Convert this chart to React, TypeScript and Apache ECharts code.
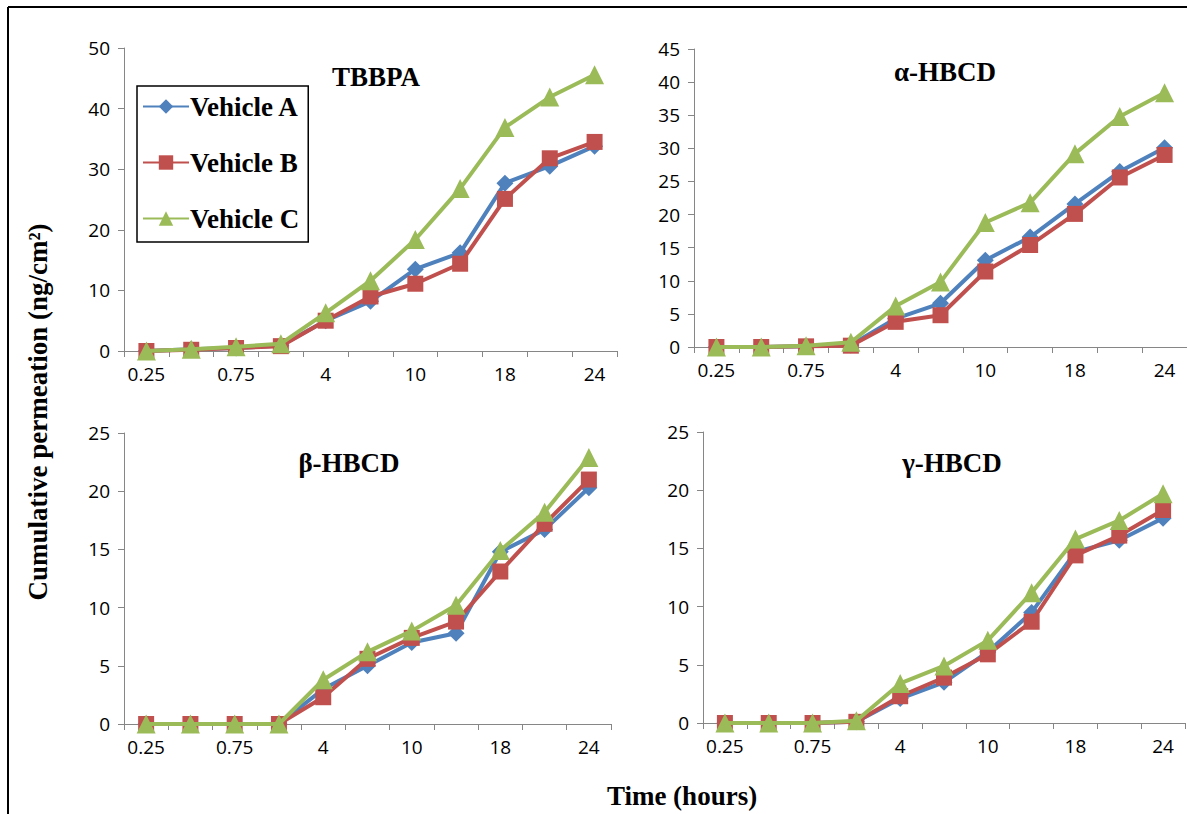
import React, { useEffect, useRef } from "react";
import * as echarts from "echarts";

const categories = ["0.25", "0.5", "0.75", "1", "4", "7", "10", "14", "18", "21", "24"];
const seriesNames = ["Vehicle A", "Vehicle B", "Vehicle C"];
const colors = ["#4F81BD", "#C0504D", "#9BBB59"];
const symbols = ["diamond", "rect", "triangle"];
const symbolSizes = [17, 16, 19];

const panelTitles = ["TBBPA", "α-HBCD", "β-HBCD", "γ-HBCD"];
const yMax = [50, 45, 25, 25];
const yStep = [10, 5, 5, 5];

const tbbpaA = [0, 0.3, 0.5, 0.9, 5, 8.2, 13.5, 16.2, 27.7, 30.5, 33.8];
const tbbpaB = [0, 0.2, 0.5, 0.8, 5, 9, 11.1, 14.4, 25.1, 31.8, 34.5];
const tbbpaC = [0, 0.3, 0.7, 1.2, 6.3, 11.6, 18.4, 26.8, 36.9, 41.9, 45.6];

const alphaA = [0, 0, 0.1, 0.3, 4.3, 6.6, 13.1, 16.6, 21.6, 26.5, 30.1];
const alphaB = [0, 0, 0.1, 0.2, 3.8, 4.8, 11.4, 15.4, 20.1, 25.6, 29];
const alphaC = [0, 0, 0.2, 0.7, 6.2, 9.8, 18.8, 21.8, 29.2, 34.8, 38.4];

const betaA = [0, 0, 0, 0, 3, 5, 7, 7.8, 14.8, 16.7, 20.3];
const betaB = [0, 0, 0, 0, 2.3, 5.6, 7.4, 8.8, 13.1, 17.2, 21];
const betaC = [0, 0, 0, 0, 3.8, 6.2, 8, 10.2, 14.9, 18.2, 22.9];

const gammaA = [0, 0, 0, 0.1, 2.1, 3.5, 6.1, 9.5, 14.7, 15.7, 17.6];
const gammaB = [0, 0, 0, 0.1, 2.3, 3.9, 5.9, 8.7, 14.4, 16.1, 18.3];
const gammaC = [0, 0, 0, 0.2, 3.4, 4.9, 7.1, 11.2, 15.8, 17.4, 19.7];

const panelData = [
  [tbbpaA, tbbpaB, tbbpaC],
  [alphaA, alphaB, alphaC],
  [betaA, betaB, betaC],
  [gammaA, gammaB, gammaC],
];

const grids = [
  { left: 124, top: 48, width: 493, height: 303 },
  { left: 694, top: 49, width: 493, height: 298 },
  { left: 124, top: 433, width: 487, height: 291 },
  { left: 703, top: 432, width: 482, height: 291 },
];
const titlePos = [
  { x: 376, y: 77 },
  { x: 945, y: 72 },
  { x: 349, y: 463 },
  { x: 952, y: 463 },
];

const serif = "'Liberation Serif', 'Times New Roman', serif";
const sans = "'Open Sans', 'Noto Sans', sans-serif";
const axisColor = "#868686";

export default function App() {
  const ref = useRef<HTMLDivElement>(null);
  useEffect(() => {
    if (!ref.current) return;
    const chart = echarts.init(ref.current, null, { renderer: "svg" });
    const xAxis = grids.map((_, i) => ({
      type: "category",
      gridIndex: i,
      data: categories,
      boundaryGap: true,
      axisLine: { lineStyle: { color: axisColor, width: 1 } },
      axisTick: { show: true, interval: 0, length: 6, lineStyle: { color: axisColor } },
      axisLabel: { interval: 1, color: "#000", fontFamily: sans, fontSize: 19, margin: 13 },
      splitLine: { show: false },
    }));
    const yAxis = grids.map((_, i) => ({
      type: "value",
      gridIndex: i,
      min: 0,
      max: yMax[i],
      interval: yStep[i],
      axisLine: { show: true, lineStyle: { color: axisColor, width: 1 } },
      axisTick: { show: true, length: 6, lineStyle: { color: axisColor } },
      axisLabel: { color: "#000", fontFamily: sans, fontSize: 19, margin: 14 },
      splitLine: { show: false },
    }));
    const series: any[] = [];
    panelData.forEach((sets, p) => {
      sets.forEach((vals, s) => {
        series.push({
          type: "line",
          name: seriesNames[s],
          xAxisIndex: p,
          yAxisIndex: p,
          data: vals,
          symbol: symbols[s],
          symbolSize: symbolSizes[s],
          showAllSymbol: true,
          lineStyle: { color: colors[s], width: 4 },
          itemStyle: { color: colors[s] },
          z: 2 + s,
        });
      });
    });
    const graphic: any[] = [
      { type: "line", shape: { x1: 8, y1: 7, x2: 1187, y2: 7 }, style: { stroke: "#000", lineWidth: 2 } },
      { type: "line", shape: { x1: 8, y1: 7, x2: 8, y2: 814 }, style: { stroke: "#000", lineWidth: 2 } },
      {
        type: "text",
        x: 38,
        y: 412,
        rotation: Math.PI / 2,
        style: {
          text: "Cumulative permeation (ng/cm²)",
          font: `bold 27px ${serif}`,
          fill: "#000",
          textAlign: "center",
          textVerticalAlign: "middle",
        },
      },
      {
        type: "text",
        x: 682,
        y: 796,
        style: {
          text: "Time (hours)",
          font: `bold 27px ${serif}`,
          fill: "#000",
          textAlign: "center",
          textVerticalAlign: "middle",
        },
      },
    ];
    panelTitles.forEach((t, i) => {
      graphic.push({
        type: "text",
        x: titlePos[i].x,
        y: titlePos[i].y,
        style: {
          text: t,
          font: `bold 27px ${serif}`,
          fill: "#000",
          textAlign: "center",
          textVerticalAlign: "middle",
        },
      });
    });
    chart.setOption({
      animation: false,
      backgroundColor: "#fff",
      grid: grids,
      xAxis,
      yAxis,
      series,
      graphic,
      legend: {
        data: seriesNames,
        orient: "vertical",
        left: 137,
        top: 86,
        padding: [7, 9, 10, 5],
        itemGap: 29,
        itemWidth: 46,
        itemHeight: 18,
        borderColor: "#000",
        borderWidth: 1.5,
        backgroundColor: "#fff",
        textStyle: { fontFamily: serif, fontWeight: "bold", fontSize: 27, color: "#000", padding: [0, 0, 0, -4] },
        selectedMode: false,
      },
    });
    return () => chart.dispose();
  }, []);
  return (
    <div
      ref={ref}
      style={{ position: "fixed", left: 0, top: 0, width: 1187, height: 814, background: "#fff" }}
    />
  );
}
